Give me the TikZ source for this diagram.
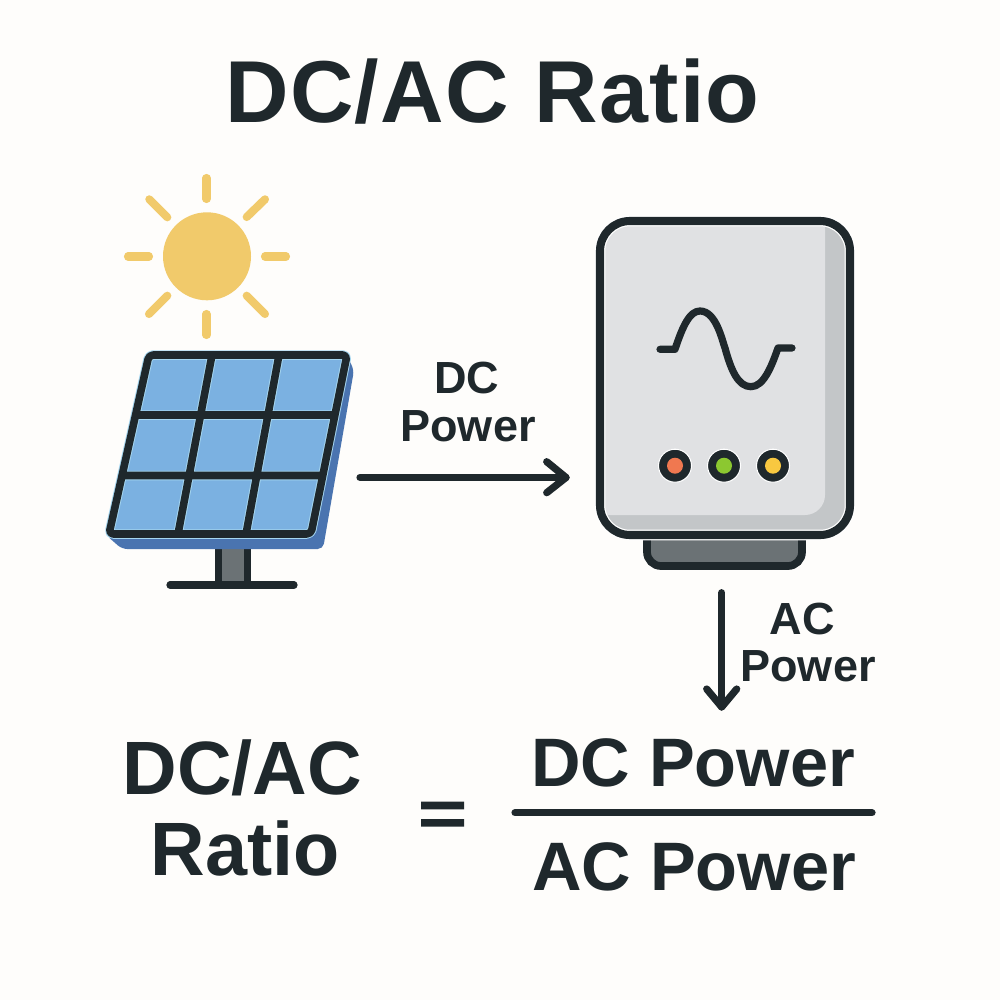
\documentclass[tikz,border=0pt]{standalone}
\usepackage{fontspec}
\setmainfont{Liberation Sans}
\definecolor{ink}{HTML}{1F282C}
\definecolor{bgc}{HTML}{FEFDFB}
\definecolor{sun}{HTML}{F1CA6B}
\definecolor{cell}{HTML}{7BB1E1}
\definecolor{cellhi}{HTML}{A5D6F0}
\definecolor{panelside}{HTML}{4A74B0}
\definecolor{metal}{HTML}{6B7275}
\definecolor{body}{HTML}{E0E1E3}
\definecolor{bodyshade}{HTML}{C3C6C8}
\definecolor{ledr}{HTML}{F07850}
\definecolor{ledg}{HTML}{8CC830}
\definecolor{ledy}{HTML}{F8C840}
\tikzset{
  x=0.01cm,y=-0.01cm,
  ray/.style={draw=sun,line width=2.3pt,line cap=round},
  frame/.style={draw=ink,line width=2.15pt,line join=round},
  inkline/.style={draw=ink,line width=2.05pt,line cap=round,line join=round},
  lbl/.style={text=ink,inner sep=0pt,anchor=base},
  small/.style={lbl,font=\fontsize{12.8}{14}\selectfont\bfseries},
  big/.style={lbl,font=\fontsize{21.5}{24}\selectfont\bfseries},
  frac/.style={lbl,font=\fontsize{19.5}{22}\selectfont\bfseries},
  led/.style={circle,draw=white,line width=0.3pt,fill=ink,minimum size=0.33cm,inner sep=0pt},
}
\begin{document}
\begin{tikzpicture}
\useasboundingbox (0,0) rectangle (1000,1000);
\fill[bgc] (0,0) rectangle (1000,1000);
\node[lbl,font=\fontsize{25}{28}\selectfont\bfseries\addfontfeature{LetterSpace=1.5}] (title) at (492.5,122) {DC/AC Ratio};
% sun
\fill[sun] (207,256.3) circle (44);
\draw[ray] (206.5,178)--(206.5,199);
\draw[ray] (206.5,314)--(206.5,335);
\draw[ray] (128,256.5)--(149,256.5);
\draw[ray] (265,256.5)--(286,256.5);
\draw[ray] (246.7,217)--(265,199.3);
\draw[ray] (149.3,199.3)--(167.3,217.3);
\draw[ray] (149,314)--(167.3,295.7);
\draw[ray] (246.7,295.7)--(265,314);
% panel stand
\fill[metal] (218,545) rectangle (248,582);
\draw[draw=ink,line width=2pt] (218.5,545)--(218.5,582) (247.5,545)--(247.5,582);
\draw[inkline] (170,585)--(294,585);
% panel
\fill[panelside,rounded corners=1.5pt] (345,352)--(354,370)--(323,549)--(122,549)--(106,535)--cycle;
\fill[cell] (149,355)--(347,355)--(311,534)--(109,534)--cycle;
\draw[frame,draw=cellhi,line width=2.7pt] (212,355)--(178,534) (279,355)--(246,534) (135.6,415)--(335,415) (122,475.5)--(322.7,475.5);
\draw[frame,draw=cellhi,line width=2.7pt,rounded corners=1.2pt] (149,355)--(347,355)--(311,534)--(109,534)--cycle;
\draw[frame] (212,355)--(178,534) (279,355)--(246,534) (135.6,415)--(335,415) (122,475.5)--(322.7,475.5);
\draw[frame,rounded corners=1.2pt] (149,355)--(347,355)--(311,534)--(109,534)--cycle;
% inverter foot
\draw[draw=ink,line width=2.2pt,fill=metal,rounded corners=4pt] (647,520)--(647,566)--(802,566)--(802,520)--cycle;
% inverter body
\fill[bodyshade,rounded corners=8.5pt] (600,221) rectangle (850,535);
\begin{scope}
\clip[rounded corners=8.5pt] (600,221) rectangle (850,535);
\fill[body,rounded corners=5.7pt] (590,200)--(825,200)--(825,515)--(590,515)--cycle;
\end{scope}
\draw[draw=white,line width=3pt,rounded corners=8.5pt] (600,221) rectangle (850,535);
\draw[draw=ink,line width=2.3pt,rounded corners=8.5pt] (600,221) rectangle (850,535);
% sine
\draw[inkline] (660,349.3)--(675,349.3) .. controls (683,325) and (690,311) .. (700,311) .. controls (716,311) and (722,340) .. (725,348) .. controls (731,370) and (738,386.7) .. (751,386.7) .. controls (764,386.7) and (772,365) .. (778,348)--(792,348);
% LEDs
\node[led] (l1) at (675,465.7) {};
\node[led] (l2) at (724,465.7) {};
\node[led] (l3) at (773,465.7) {};
\fill[ledr] (l1.center) circle (8);
\fill[ledg] (l2.center) circle (8);
\fill[ledy] (l3.center) circle (8);
% arrows
\coordinate (dcs) at (360,477.5);
\coordinate (dce) at (566,477.5);
\coordinate (acs) at (721.7,592.7);
\coordinate (ace) at (721.7,707);
\draw[inkline] (dcs)--(dce);
\draw[inkline] (546.7,461.7)--(dce)--(546.7,492.7);
\draw[inkline] (acs)--(ace);
\draw[inkline] (706.7,689)--(ace)--(736.7,689);
% labels
\node[small] (dc1) at (467,393) {DC};
\node[small] (dc2) at (468,441.7) {Power};
\node[small] (ac1) at (802,634) {AC};
\node[small] (ac2) at (808,681) {Power};
% formula
\node[big] (f1) at (242.5,794) {DC/AC};
\node[big] (f2) at (245,875) {Ratio};
\fill[ink] (421,801.7) rectangle (464,809.3) (421,819) rectangle (464,826.7);
\node[frac] (n) at (693,786.7) {DC Power};
\node[frac] (d) at (694,890) {AC Power};
\coordinate (fa) at (515,812.7);
\coordinate (fb) at (872,812.7);
\draw[inkline] (fa)--(fb);
\end{tikzpicture}
\end{document}
